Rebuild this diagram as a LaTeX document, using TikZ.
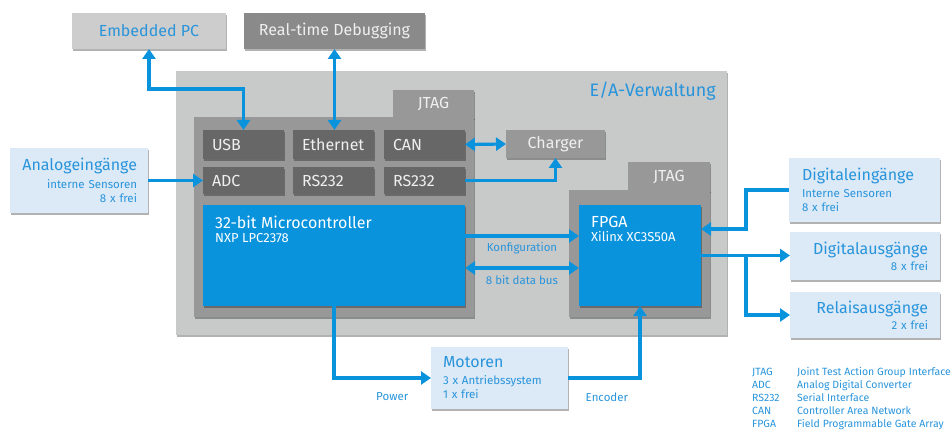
\documentclass[tikz,border=0pt]{standalone}
\usepackage{fontspec}
\setmainfont{Fira Sans}
\usetikzlibrary{arrows.meta,shadows}

\definecolor{abblue}{HTML}{0A93DD}
\definecolor{txtblue}{HTML}{2894DB}
\definecolor{paleblue}{HTML}{DCE9F6}
\definecolor{outergray}{HTML}{C8C9C9}
\definecolor{midgray}{HTML}{989898}
\definecolor{rtdgray}{HTML}{8A8A8A}
\definecolor{cellgray}{HTML}{676767}
\definecolor{pcgray}{HTML}{CDCDCD}
\definecolor{paletext}{HTML}{EFEFEF}

\newcommand{\TitleTxt}{\fontsize{18}{21}\selectfont}
\newcommand{\BigTxt}{\fontsize{16}{19}\selectfont}
\newcommand{\MidTxt}{\fontsize{13}{16}\selectfont}
\newcommand{\SmallTxt}{\fontsize{11.5}{14}\selectfont}
\newcommand{\LegTxt}{\fontsize{10.5}{13}\selectfont}

\begin{document}
\begin{tikzpicture}[x=1pt, y=-1pt,
        lift/.style={drop shadow={shadow xshift=0.6pt, shadow yshift=-1.6pt, opacity=0.3, fill=black}},
        block/.style={rectangle, anchor=north west, inner sep=0pt, outer sep=0pt, lift},
        cell/.style={block, fill=cellgray, text=paletext, font=\BigTxt, minimum height=29pt, text width=63pt, inner xsep=9pt, align=left},
        tagbox/.style={block, fill=midgray, text=paletext, font=\BigTxt, minimum width=81pt, minimum height=28pt},
        iobox/.style={block, fill=paleblue, text=txtblue, font=\SmallTxt},
        modframe/.style={block, fill=midgray},
        chip/.style={block, fill=abblue},
        txt/.style={inner sep=0pt, text=txtblue},
        flow/.style={draw=abblue, line width=3.2pt, -{Triangle[length=10pt, width=13pt]}},
        both/.style={flow, {Triangle[length=10pt, width=13pt]}-{Triangle[length=10pt, width=13pt]}},
    ]
    \useasboundingbox (0,0) rectangle (951,433);

    % top row
    \node[block, fill=pcgray, text=txtblue, font=\BigTxt, minimum width=154pt, minimum height=36pt] (epc) at (72,13) {Embedded PC};
    \node[block, fill=rtdgray, text=paletext, font=\BigTxt, minimum width=181pt, minimum height=36pt] (rtd) at (244,13) {Real-time Debugging};

    % E/A-Verwaltung
    \node[block, fill=outergray, minimum width=551pt, minimum height=264pt] (ea) at (176,71) {};
    \node[txt, anchor=base east, font=\TitleTxt] (eatext) at (716,97) {E/A-Verwaltung};

    % microcontroller module
    \node[tagbox] (jtagmc) at (393,90) {JTAG};
    \node[modframe, minimum width=280pt, minimum height=200pt] (mcmod) at (194,117) {};
    \node[cell] (usb) at (203,130) {USB};
    \node[cell] (eth) at (293,130) {Ethernet};
    \node[cell] (can) at (384,130) {CAN};
    \node[cell, minimum height=27pt] (adc) at (203,167) {ADC};
    \node[cell, minimum height=27pt] (rsa) at (293,167) {RS232};
    \node[cell, minimum height=27pt] (rsb) at (384,167) {RS232};
    \node[chip, minimum width=262pt, minimum height=101pt] (mcu) at (203,205) {};
    \node[txt, anchor=north west, text=white, align=left] (mcutext) at (215,216) {{\BigTxt 32-bit Microcontroller}\\[2pt]{\MidTxt NXP LPC2378}};

    \node[tagbox, minimum width=99pt] (charger) at (506,130) {Charger};

    % FPGA module
    \node[tagbox, minimum width=82pt, minimum height=29pt] (jtagfp) at (628,162) {JTAG};
    \node[modframe, minimum width=141pt, minimum height=127pt] (fpmod) at (569,190) {};
    \node[chip, minimum width=122pt, minimum height=101pt] (fpga) at (579,205) {};
    \node[txt, anchor=north west, text=white, align=left] (fpgatext) at (591,216) {{\BigTxt FPGA}\\[2pt]{\MidTxt Xilinx XC3S50A}};

    % inputs and outputs
    \node[iobox, minimum height=65pt, text width=116pt, inner xsep=11pt, align=right] (analog) at (10,148) {{\BigTxt Analogeingänge}\\[4pt]interne Sensoren\\8 x frei};
    \node[iobox, minimum height=64pt, text width=125pt, inner xsep=13pt, align=left] (digin) at (789,158) {{\BigTxt Digitaleingänge}\\[3pt]Interne Sensoren\\8 x frei};
    \node[iobox, minimum height=48pt, text width=126pt, inner xsep=12pt, align=right] (digout) at (790,232) {{\BigTxt Digitalausgänge}\\[2pt]8 x frei};
    \node[iobox, minimum height=46pt, text width=126pt, inner xsep=12pt, align=right] (relais) at (790,292) {{\BigTxt Relaisausgänge}\\[2pt]2 x frei};
    \node[iobox, minimum height=62pt, text width=113pt, inner xsep=12pt, align=left] (motoren) at (431,347) {{\BigTxt Motoren}\\[3pt]3 x Antriebssystem\\1 x frei};

    \coordinate (split) at (746,256);

    % connections
    \draw[both] (epc.south) -- ++(0,40) -| (usb.north);
    \draw[both] (rtd.south) -- (rtd.south |- eth.north);
    \draw[flow] (analog.east) -- (adc.west);
    \draw[both] (can.east) -- (charger.west);
    \draw[flow] (rsb.east) -| (charger.south);
    \draw[flow] ([yshift=19.5pt]mcu.east) -- ([yshift=19.5pt]mcu.east -| fpga.west)
        node[txt, midway, below=5pt, font=\SmallTxt] (konf) {Konfiguration};
    \draw[both] ([yshift=-12.5pt]mcu.east) -- ([yshift=-12.5pt]mcu.east -| fpga.west)
        node[txt, midway, below=6pt, font=\SmallTxt] (dbus) {8 bit data bus};
    \draw[flow] (mcu.south) |- (motoren.west)
        node[txt, pos=0.8, below=13pt, font=\SmallTxt] (power) {Power};
    \draw[flow] (motoren.east) -| (fpga.south)
        node[txt, pos=0.27, below=13pt, font=\SmallTxt] (enc) {Encoder};
    \draw[flow] (digin.west) -- (digin.west -| split) |- ([yshift=26.5pt]fpga.east);
    \draw[flow] (fpga.east -| split) |- (relais.west);
    \draw[flow] (fpga.east) -- (fpga.east -| digout.west);

    % legend
    \node[txt, anchor=north west, font=\LegTxt] (legend) at (752,366) {%
        \begin{tabular}{@{}p{45pt}@{}l@{}}
            JTAG & Joint Test Action Group Interface\\
            ADC & Analog Digital Converter\\
            RS232 & Serial Interface\\
            CAN & Controller Area Network\\
            FPGA & Field Programmable Gate Array
        \end{tabular}};
\end{tikzpicture}
\end{document}
